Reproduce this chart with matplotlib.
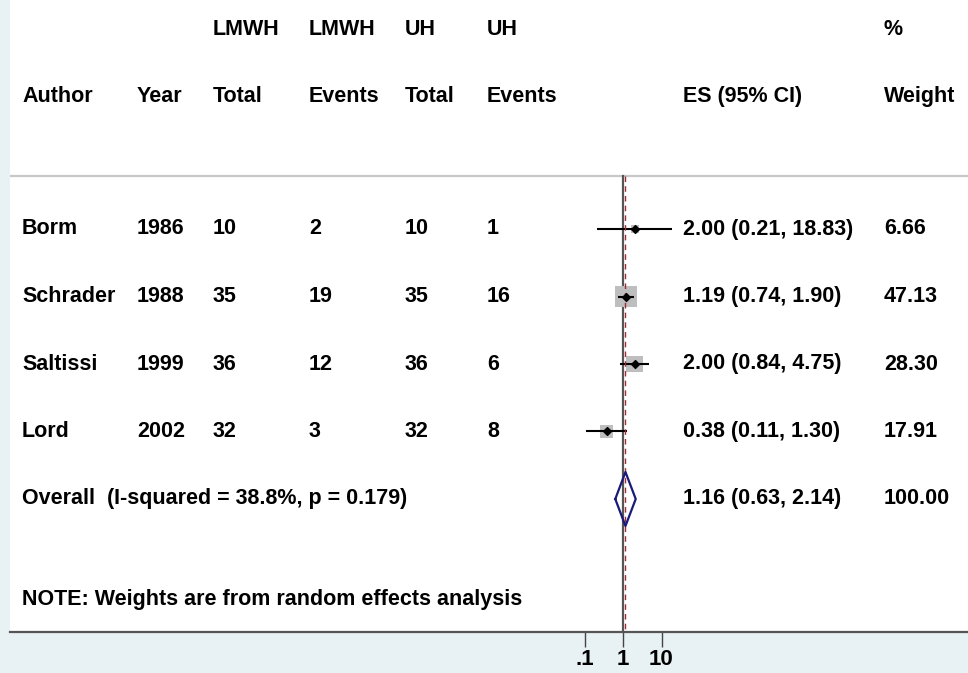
import matplotlib
matplotlib.use('Agg')
import matplotlib.pyplot as plt
import matplotlib.transforms as mtransforms
import numpy as np

# study data
authors = ['Borm', 'Schrader', 'Saltissi', 'Lord']
years = ['1986', '1988', '1999', '2002']
lmwh_total = ['10', '35', '36', '32']
lmwh_events = ['2', '19', '12', '3']
uh_total = ['10', '35', '36', '32']
uh_events = ['1', '16', '6', '8']
es = [2.00, 1.19, 2.00, 0.38]
ci_low = [0.21, 0.74, 0.84, 0.11]
ci_high = [18.83, 1.90, 4.75, 1.30]
weights = [6.66, 47.13, 28.30, 17.91]

overall_es = 1.16
overall_low = 0.63
overall_high = 2.14
overall_label = 'Overall  (I-squared = 38.8%, p = 0.179)'
note = 'NOTE: Weights are from random effects analysis'

header_top = ['', '', 'LMWH', 'LMWH', 'UH', 'UH', '', '%']
header_bot = ['Author', 'Year', 'Total', 'Events', 'Total', 'Events', 'ES (95% CI)', 'Weight']
x_ticks = [0.1, 1, 10]
x_ticklabels = ['.1', '1', '10']

# ######## layout ########
W, H = 968, 673
bg = '#E8F1F3'
font = dict(family='Liberation Sans', fontweight='bold', fontsize=15.5, color='black')

fig = plt.figure(figsize=(W / 100, H / 100), dpi=100, facecolor=bg)
# white plot region: x 10..968, y 0..632 (pixels from top)
ax = fig.add_axes([10 / W, (H - 632) / H, 958 / W, 632 / H])
ax.set_facecolor('white')

# log scale, 1 at pixel 623, one decade = 38.5 px
px_one, decade = 623, 38.5
ax.set_xscale('log')
ax.set_xlim(10 ** ((10 - px_one) / decade), 10 ** ((968 - px_one) / decade))

# rows: pixel y = 229 + 67.5 * row
row_top = (0 - 229) / 67.5
row_bot = (632 - 229) / 67.5
ax.set_ylim(row_bot, row_top)

for s in ['top', 'left', 'right']:
    ax.spines[s].set_visible(False)
ax.spines['bottom'].set_color('#555555')
ax.spines['bottom'].set_linewidth(1.6)
ax.set_yticks([])
ax.set_xticks(x_ticks)
ax.set_xticklabels(x_ticklabels)
ax.xaxis.set_minor_locator(matplotlib.ticker.NullLocator())
ax.tick_params(axis='x', direction='out', length=11, width=1, color='#444444', pad=1)
for lbl in ax.get_xticklabels():
    lbl.set_fontfamily('Liberation Sans')
    lbl.set_fontweight('bold')
    lbl.set_fontsize(16)

trans = mtransforms.blended_transform_factory(ax.transAxes, ax.transData)


def colx(px):
    return (px - 10) / 958


col_px = [22, 137, 213, 309, 405, 487, 683, 884]

# header
for j, txt in enumerate(header_top):
    if txt:
        ax.text(colx(col_px[j]), -2.96, txt, transform=trans, va='center', ha='left', **font)
for j, txt in enumerate(header_bot):
    ax.text(colx(col_px[j]), -1.96, txt, transform=trans, va='center', ha='left', **font)

sep = (176 - 229) / 67.5
ax.axhline(sep, color='#C8C8C8', lw=1.6, zorder=1)

# reference line and overall dashed line
ax.plot([1, 1], [sep, row_bot], color='#555555', lw=1.6, zorder=2)
ax.plot([overall_es, overall_es], [sep, row_bot], color='#9B2D35', lw=1.0,
        dashes=(4, 3), zorder=5)

rows = np.arange(len(authors))
# boxes, area proportional to weight
side_px = 3.15 * np.sqrt(np.array(weights))
ax.scatter(es, rows, marker='s', s=(side_px * 0.72) ** 2, color='#BEBEBE',
           edgecolors='none', zorder=3)
ax.hlines(rows, ci_low, ci_high, color='black', lw=1.5, zorder=4)
ax.scatter(es, rows, marker='D', s=16, color='black', zorder=6)

for i in range(len(authors)):
    cells = [authors[i], years[i], lmwh_total[i], lmwh_events[i], uh_total[i], uh_events[i],
             '%.2f (%.2f, %.2f)' % (es[i], ci_low[i], ci_high[i]), '%.2f' % weights[i]]
    for j, txt in enumerate(cells):
        ax.text(colx(col_px[j]), i, txt, transform=trans, va='center', ha='left', **font)

# overall diamond
yo = len(authors)
dh = 0.4
ax.plot([overall_low, overall_es, overall_high, overall_es, overall_low],
        [yo, yo - dh, yo, yo + dh, yo], color='#1A1A7A', lw=1.6, zorder=6)
ax.text(colx(col_px[0]), yo, overall_label, transform=trans, va='center', ha='left', **font)
ax.text(colx(col_px[6]), yo, '%.2f (%.2f, %.2f)' % (overall_es, overall_low, overall_high),
        transform=trans, va='center', ha='left', **font)
ax.text(colx(col_px[7]), yo, '%.2f' % sum(weights), transform=trans, va='center', ha='left', **font)

ax.text(colx(col_px[0]), (600 - 229) / 67.5, note, transform=trans, va='center', ha='left', **font)

fig.savefig('out.png', dpi=100, facecolor=bg)
